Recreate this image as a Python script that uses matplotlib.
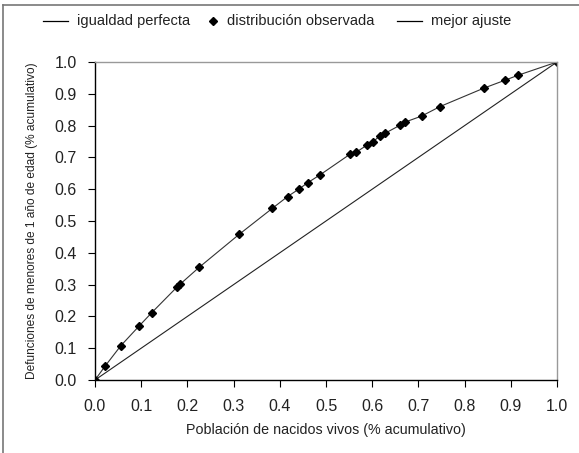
import matplotlib
matplotlib.use("Agg")
import matplotlib.pyplot as plt
from matplotlib.lines import Line2D

plt.rcParams['font.family'] = ['Liberation Sans', 'DejaVu Sans']

x_obs = [0.0, 0.022, 0.056, 0.095, 0.123, 0.178, 0.184, 0.226, 0.312, 0.384,
         0.417, 0.442, 0.460, 0.487, 0.552, 0.565, 0.588, 0.601, 0.616, 0.628,
         0.660, 0.671, 0.707, 0.747, 0.842, 0.888, 0.915, 1.0]
y_obs = [0.0, 0.044, 0.108, 0.169, 0.212, 0.293, 0.301, 0.355, 0.458, 0.540,
         0.577, 0.601, 0.620, 0.645, 0.710, 0.716, 0.738, 0.748, 0.767, 0.776,
         0.801, 0.811, 0.830, 0.860, 0.918, 0.943, 0.958, 1.0]
x_eq = [0.0, 1.0]
y_eq = [0.0, 1.0]
ticks = [0.0, 0.1, 0.2, 0.3, 0.4, 0.5, 0.6, 0.7, 0.8, 0.9, 1.0]
tick_labels = ['0.0', '0.1', '0.2', '0.3', '0.4', '0.5', '0.6', '0.7', '0.8', '0.9', '1.0']
legend_labels = ['igualdad perfecta', 'distribución observada', 'mejor ajuste']

W, H = 579, 453
fig = plt.figure(figsize=(W/100, H/100), dpi=100)
ax = fig.add_axes([95/W, 1-380/H, (557-95)/W, (380-62)/H])

ax.plot(x_eq, y_eq, color='#222222', lw=0.8)
ax.plot(x_obs, y_obs, color='#333333', lw=0.8)
ax.plot(x_obs, y_obs, linestyle='none', marker='D', markersize=4.5, color='black')

ax.set_xlim(0, 1)
ax.set_ylim(0, 1)
ax.set_xticks(ticks)
ax.set_xticklabels(tick_labels)
ax.set_yticks(ticks)
ax.set_yticklabels(tick_labels)
ax.tick_params(direction='out', length=5, width=0.8, labelsize=11.5, color='black')
ax.tick_params(axis='x', pad=9)
ax.tick_params(axis='y', pad=8)
for s in ['top', 'right']:
    ax.spines[s].set_color('#999999')
    ax.spines[s].set_linewidth(1.0)
for s in ['left', 'bottom']:
    ax.spines[s].set_color('black')
    ax.spines[s].set_linewidth(1.0)
for lab in ax.get_xticklabels() + ax.get_yticklabels():
    lab.set_color('#222222')

ax.set_xlabel('Población de nacidos vivos (% acumulativo)', fontsize=10.3, labelpad=6, color='#222222')
ax.set_ylabel('Defunciones de menores de 1 año de edad (% acumulativo)', fontsize=8.6, labelpad=12, color='#222222')

# legend drawn manually across the top
ly = 1 - 21/H
tr = fig.transFigure
fig.add_artist(Line2D([43/W, 68/W], [ly, ly], color='black', lw=0.9, transform=tr))
fig.text(77/W, ly, legend_labels[0], fontsize=10.5, va='center', ha='left', color='#222222')
fig.add_artist(Line2D([213/W], [ly], marker='D', markersize=4.5, color='black', linestyle='none', transform=tr))
fig.text(227/W, ly, legend_labels[1], fontsize=10.5, va='center', ha='left', color='#222222')
fig.add_artist(Line2D([397/W, 422/W], [ly, ly], color='black', lw=0.9, transform=tr))
fig.text(431/W, ly, legend_labels[2], fontsize=10.5, va='center', ha='left', color='#222222')

fig.add_artist(Line2D([3/W, 3/W], [0, 1-5/H], color='#777777', lw=1.2, transform=tr))
fig.add_artist(Line2D([3/W, 1], [1-5/H, 1-5/H], color='#777777', lw=1.2, transform=tr))

fig.savefig('out.png', dpi=100)
